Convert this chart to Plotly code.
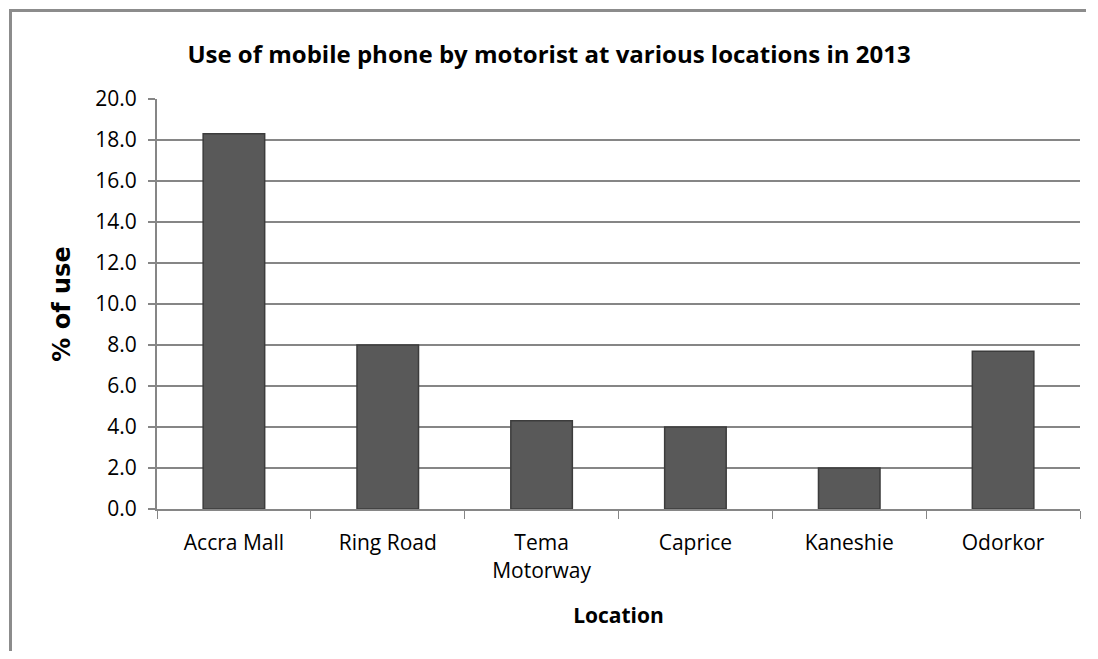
import plotly.graph_objects as go

locations = ["Accra Mall", "Ring Road", "Tema<br>Motorway", "Caprice", "Kaneshie", "Odorkor"]
use_pct = [18.3, 8.0, 4.3, 4.0, 2.0, 7.7]
y_ticks = [0, 2, 4, 6, 8, 10, 12, 14, 16, 18, 20]
y_tick_labels = [f"{v:.1f}" for v in y_ticks]

FONT = "Open Sans, Calibri, sans-serif"
GRID = "#868686"
FRAME = "#8c8c8c"

# page body has an 8px margin on every side; size the figure so no scrollbar appears
W, H = 1082, 643
L, T = 149, 91
R = W - (1080 - 8)
B = H - (509 - 8)
PW, PH = W - L - R, H - T - B

fig = go.Figure()
fig.add_trace(go.Bar(
    x=locations, y=use_pct,
    marker=dict(color="#595959", line=dict(color="#3c3c3c", width=1.5)),
    width=0.4,
))

fig.update_layout(
    width=W, height=H,
    paper_bgcolor="white", plot_bgcolor="white",
    margin=dict(l=L, r=R, t=T, b=B, pad=0),
    showlegend=False,
    title=dict(text="<b>Use of mobile phone by motorist at various locations in 2013</b>",
               x=(541 - L) / PW, xanchor="center", y=1 - 47 / H, yanchor="middle",
               xref="paper",
               font=dict(family=FONT, size=24, color="black")),
    font=dict(family=FONT, color="black"),
)
fig.update_xaxes(
    showline=True, linecolor=GRID, linewidth=2,
    ticks="outside", tickson="boundaries", ticklen=8, tickcolor=GRID, tickwidth=1,
    ticklabelstandoff=14,
    tickfont=dict(family=FONT, size=21, color="black"),
    title=dict(text="<b>Location</b>", font=dict(family=FONT, size=21, color="black"), standoff=26),
    showgrid=False,
)
fig.update_yaxes(
    range=[0, 20], tickvals=y_ticks, ticktext=y_tick_labels,
    showline=True, linecolor=GRID, linewidth=2,
    ticks="outside", ticklen=7, tickcolor=GRID, tickwidth=2,
    ticklabelstandoff=7,
    showgrid=True, gridcolor=GRID, gridwidth=2,
    zeroline=False,
    tickfont=dict(family=FONT, size=21, color="black"),
    title=dict(text="<b>% of use</b>", font=dict(family="DejaVu Sans, sans-serif", size=24, color="black"),
               standoff=18),
)


def px_x(p):
    return (p - L) / PW


def px_y(p):
    return 1 - (p - T) / PH


# outer chart frame (left and top edges) drawn as one open path
path = (f"M {px_x(2.5)},{px_y(H)} L {px_x(2.5)},{px_y(2.5)} L {px_x(W - 4)},{px_y(2.5)}")
fig.add_shape(type="path", xref="paper", yref="paper", path=path,
              line=dict(color=FRAME, width=3), layer="above")

fig.write_html("out.html")
